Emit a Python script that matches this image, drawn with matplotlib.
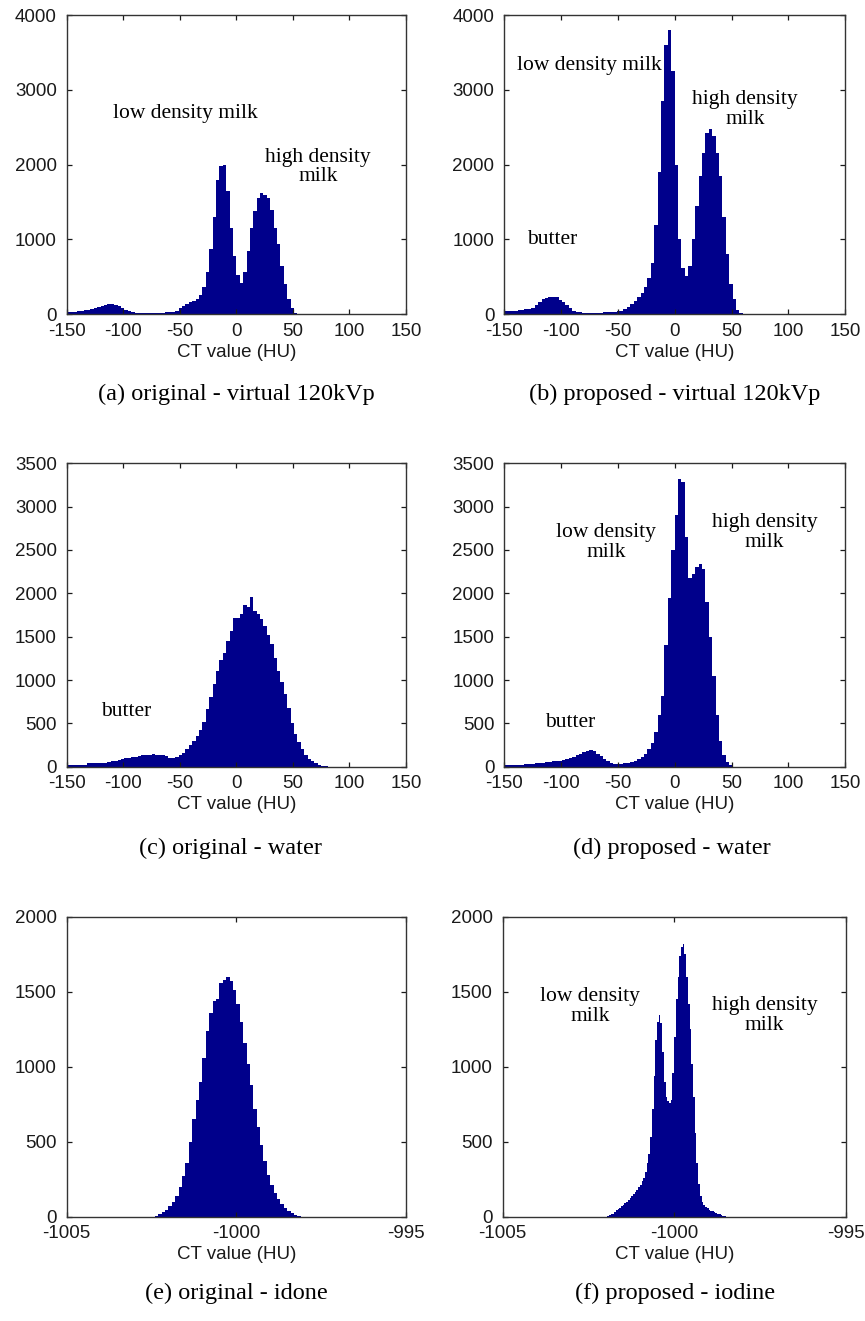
import numpy as np
import matplotlib.pyplot as plt

plt.rcParams['font.family'] = 'Liberation Sans'
plt.rcParams['axes.unicode_minus'] = False

BAR_COLOR = '#00008B'
SERIF = 'Liberation Serif'

# bin layout of the water / 120kVp histograms (HU)
hu_start = -150
hu_step = 3

# counts per 3 HU bin, starting at -150 HU
orig_120kvp = [30, 35, 35, 40, 50, 55, 60, 70, 80, 100,
               115, 130, 140, 140, 130, 110, 85, 60, 45, 30,
               20, 15, 15, 15, 20, 20, 20, 20, 20, 25,
               25, 30, 50, 80, 110, 140, 160, 180, 210, 260,
               370, 560, 870, 1300, 1800, 1980, 2000, 1650, 1150, 780,
               520, 420, 560, 850, 1150, 1380, 1560, 1620, 1600, 1560,
               1400, 1150, 940, 650, 400, 200, 80, 20, 0]
prop_120kvp = [40, 40, 45, 50, 55, 60, 65, 70, 90, 120,
               160, 200, 220, 235, 235, 225, 195, 160, 120, 80,
               50, 35, 25, 20, 20, 20, 20, 20, 20, 25,
               25, 30, 35, 40, 50, 70, 100, 140, 180, 230,
               290, 370, 480, 690, 1200, 1900, 2850, 3600, 3800, 3250,
               2000, 1000, 620, 510, 650, 1000, 1450, 1850, 2150, 2420,
               2480, 2380, 2150, 1850, 1300, 800, 400, 200, 60, 15, 0]
orig_water = [20, 20, 20, 20, 22, 25, 45, 45, 45, 45,
              45, 45, 50, 65, 70, 80, 90, 100, 100, 110,
              115, 120, 130, 135, 140, 150, 140, 135, 130, 120,
              105, 100, 110, 130, 160, 200, 250, 300, 350, 420,
              520, 660, 800, 950, 1100, 1230, 1310, 1450, 1560, 1720,
              1720, 1760, 1860, 1840, 1960, 1800, 1760, 1700, 1620, 1520,
              1420, 1250, 1100, 980, 840, 680, 500, 380, 280, 200,
              140, 90, 60, 40, 25, 10, 5]
prop_water = [20, 20, 20, 20, 22, 25, 28, 30, 35, 40,
              45, 45, 50, 55, 60, 65, 70, 80, 90, 100,
              115, 130, 150, 165, 180, 190, 180, 150, 120, 85,
              60, 40, 32, 30, 32, 38, 45, 55, 70, 90,
              115, 150, 200, 270, 400, 600, 820, 1400, 1950, 2500,
              2900, 3320, 3290, 2650, 2180, 2220, 2300, 2340, 2280, 1900,
              1500, 1050, 600, 300, 130, 50, 15, 0]

# iodine histograms
orig_iod_start = -1002.4
orig_iod_step = 0.1
orig_iodine = [5, 15, 30, 45, 70, 95, 140, 200, 270, 360,
               500, 650, 780, 900, 1060, 1240, 1360, 1440, 1450, 1560,
               1580, 1600, 1570, 1510, 1420, 1300, 1160, 1020, 880, 720,
               600, 480, 370, 280, 210, 160, 120, 85, 60, 40,
               25, 10, 3]
prop_iod_start = -1001.95
prop_iod_step = 0.05
prop_iodine = [5, 10, 15, 20, 30, 45, 50, 60, 70, 80,
               90, 100, 110, 125, 140, 150, 165, 180, 195, 210,
               235, 260, 300, 360, 420, 530, 720, 940, 1180, 1300,
               1345, 1290, 1100, 900, 800, 770, 760, 780, 960, 1200,
               1450, 1600, 1740, 1800, 1820, 1750, 1600, 1420, 1250, 1020,
               800, 560, 360, 220, 140, 100, 80, 65, 55, 45,
               40, 35, 30, 25, 20, 15, 10, 5, 2]

hu_ticks = [-150, -100, -50, 0, 50, 100, 150]
iod_ticks = [-1005, -1000, -995]

captions = ['(a) original - virtual 120kVp', '(b) proposed - virtual 120kVp',
            '(c) original - water', '(d) proposed - water',
            '(e) original - idone', '(f) proposed - iodine']

W, H = 865, 1321
fig = plt.figure(figsize=(W / 100, H / 100), dpi=100)


def make_axes(x0, x1, y0, y1):
    # pixel box -> figure fraction
    return fig.add_axes([x0 / W, 1 - y1 / H, (x1 - x0) / W, (y1 - y0) / H])


def histo(ax, counts, start, step, xlim, xticks, ylim, yticks):
    edges = start + step * np.arange(len(counts) + 1)
    ax.stairs(counts, edges, fill=True, color=BAR_COLOR, linewidth=0)
    ax.set_xlim(*xlim)
    ax.set_ylim(0, ylim)
    ax.set_xticks(xticks)
    ax.set_yticks(yticks)
    ax.tick_params(direction='in', top=True, right=True, length=3.5,
                   width=0.9, labelsize=13.5, colors='#1a1a1a')
    ax.tick_params(axis='x', pad=6)
    ax.tick_params(axis='y', pad=7)
    for s in ax.spines.values():
        s.set_linewidth(1.0)
        s.set_color('#333333')
    ax.set_xlabel('CT value (HU)', fontsize=13.5, labelpad=3, color='#1a1a1a')


note = dict(family=SERIF, fontsize=15.5, ha='center', va='center', linespacing=1.05)

ax_a = make_axes(66.7, 406, 15, 314.3)
histo(ax_a, orig_120kvp, hu_start, hu_step, (-150, 150), hu_ticks, 4000,
      [0, 1000, 2000, 3000, 4000])
ax_a.text(-45, 2690, 'low density milk', **note)
ax_a.text(72, 1970, 'high density\nmilk', **note)

ax_b = make_axes(504, 845.3, 15, 314.3)
histo(ax_b, prop_120kvp, hu_start, hu_step, (-150, 150), hu_ticks, 4000,
      [0, 1000, 2000, 3000, 4000])
ax_b.text(-75, 3330, 'low density milk', **note)
ax_b.text(62, 2740, 'high density\nmilk', **note)
ax_b.text(-108, 1000, 'butter', **note)

ax_c = make_axes(66.7, 406, 463.3, 766.7)
histo(ax_c, orig_water, hu_start, hu_step, (-150, 150), hu_ticks, 3500,
      [0, 500, 1000, 1500, 2000, 2500, 3000, 3500])
ax_c.text(-97, 634, 'butter', **note)

ax_d = make_axes(504, 845.3, 463.3, 766.7)
histo(ax_d, prop_water, hu_start, hu_step, (-150, 150), hu_ticks, 3500,
      [0, 500, 1000, 1500, 2000, 2500, 3000, 3500])
ax_d.text(-60, 2585, 'low density\nmilk', **note)
ax_d.text(79, 2700, 'high density\nmilk', **note)
ax_d.text(-92, 512, 'butter', **note)

ax_e = make_axes(66.7, 406, 916.7, 1216.7)
histo(ax_e, orig_iodine, orig_iod_start, orig_iod_step, (-1005, -995), iod_ticks,
      2000, [0, 500, 1000, 1500, 2000])

ax_f = make_axes(502.7, 845.7, 916.7, 1216.7)
histo(ax_f, prop_iodine, prop_iod_start, prop_iod_step, (-1005, -995), iod_ticks,
      2000, [0, 500, 1000, 1500, 2000])
ax_f.text(-1002.45, 1400, 'low density\nmilk', **note)
ax_f.text(-997.37, 1340, 'high density\nmilk', **note)

# sub-figure captions
cap_pos = [(236, 394), (675, 394), (230, 848), (672, 848), (236, 1293), (675, 1293)]
for (cx, cy), cap in zip(cap_pos, captions):
    fig.text(cx / W, 1 - cy / H, cap, family=SERIF, fontsize=17.5,
             ha='center', va='center')

fig.savefig('out.png', dpi=100)
